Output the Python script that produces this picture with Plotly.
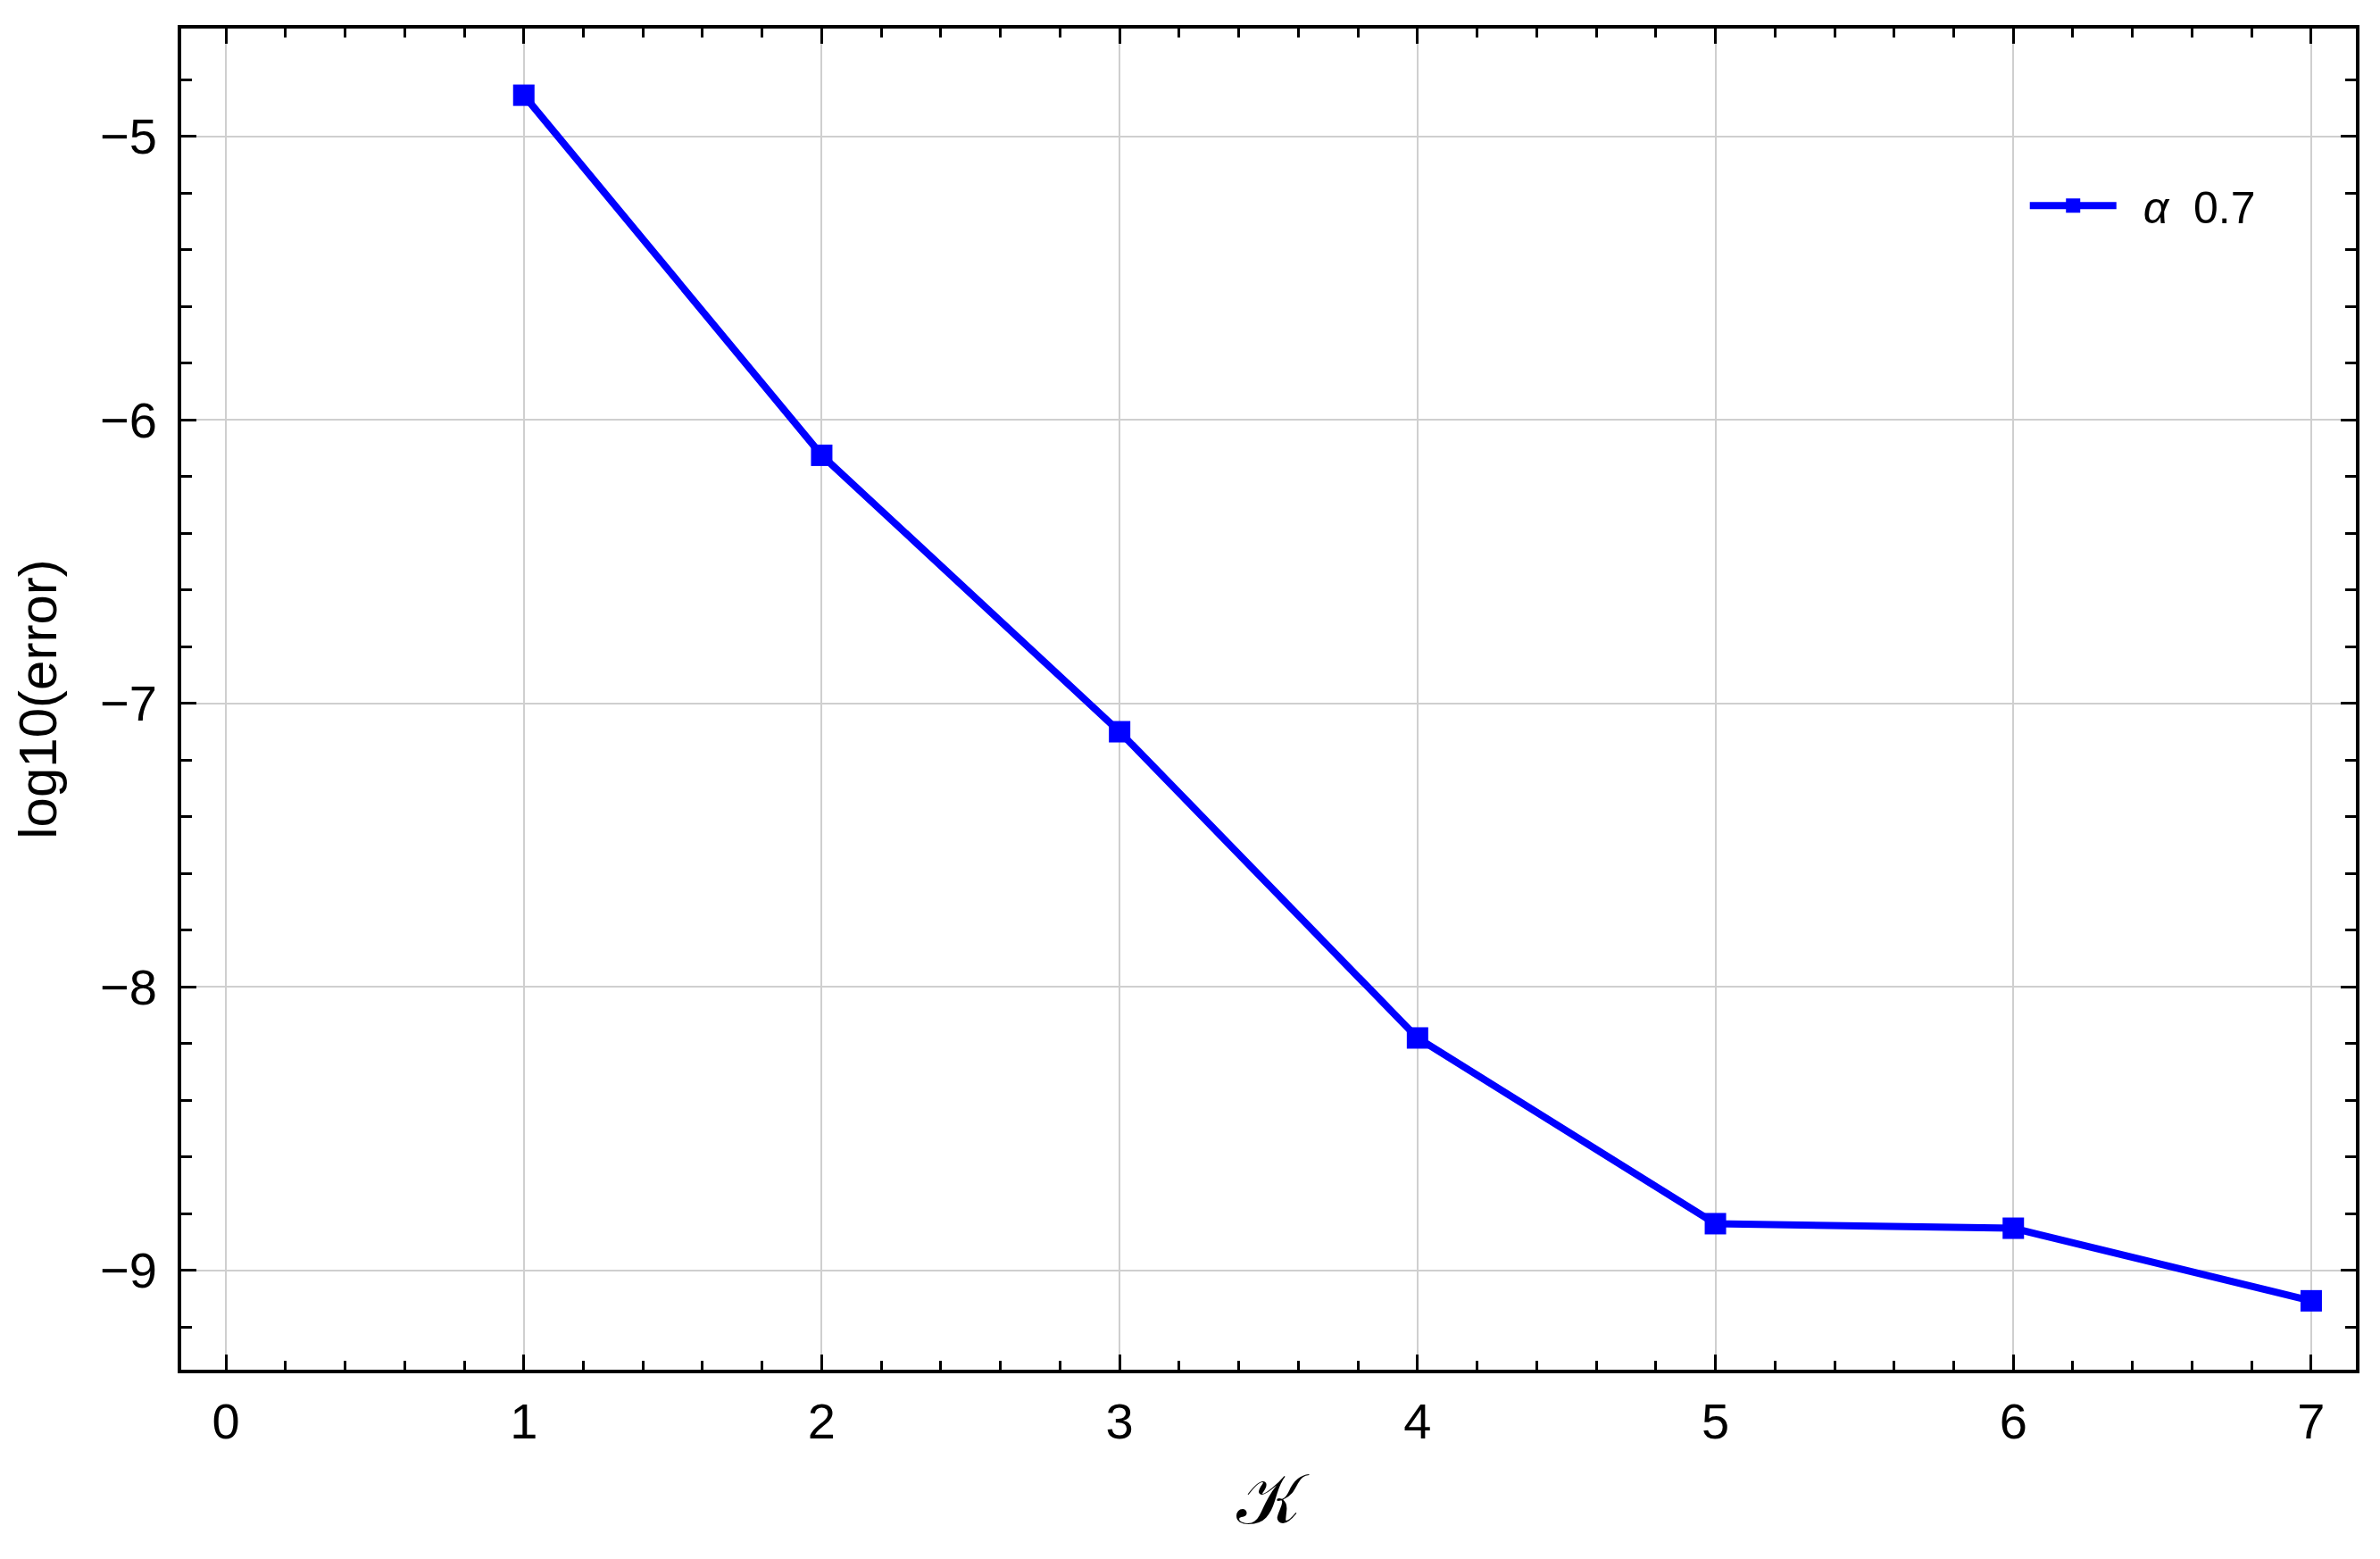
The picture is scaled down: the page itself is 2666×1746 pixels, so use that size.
import plotly.graph_objects as go

# iteration count K and log10 of the error
k_values = [1, 2, 3, 4, 5, 6, 7]
log_error = [-4.855, -6.125, -7.10, -8.18, -8.835, -8.851, -9.107]
series_name = "\u2002<i>α</i>  0.7"

x_ticks = [0, 1, 2, 3, 4, 5, 6, 7]
y_ticks = [-9, -8, -7, -6, -5]

fig = go.Figure()
fig.add_trace(go.Scatter(
    x=k_values, y=log_error, name=series_name, mode="lines+markers",
    line=dict(color="#0000ff", width=8),
    marker=dict(symbol="square", size=24, color="#0000ff"),
))

axis_style = dict(
    showline=True, linewidth=4, linecolor="black", mirror="allticks",
    ticks="inside", ticklen=17, tickwidth=3, tickcolor="black",
    showgrid=True, gridcolor="#cfcfcf", gridwidth=2, zeroline=False,
    tickfont=dict(size=56, color="black"),
)

fig.update_xaxes(
    **axis_style, range=[-0.15, 7.15], tickvals=x_ticks,
    minor=dict(dtick=0.2, ticks="inside", ticklen=10, tickwidth=3, tickcolor="black", showgrid=False),
    title=dict(text="𝒦", font=dict(size=78, color="black"), standoff=30),
    ticklabelstandoff=6,
)
fig.update_yaxes(
    **axis_style, range=[-9.35, -4.62], tickvals=y_ticks,
    minor=dict(dtick=0.2, ticks="inside", ticklen=12, tickwidth=3, tickcolor="black", showgrid=False),
    title=dict(text="log10(error)", font=dict(size=60, color="black"), standoff=30),
    ticklabelstandoff=12,
)

fig.update_layout(
    width=2666, height=1746,
    margin=dict(l=195, r=35, t=24, b=220),
    plot_bgcolor="white", paper_bgcolor="white",
    font=dict(family="Arial, Liberation Sans, sans-serif", color="black"),
    showlegend=True,
    legend=dict(x=0.848, y=0.868, xanchor="left", yanchor="middle",
                bgcolor="rgba(0,0,0,0)", font=dict(size=50, color="black"),
                itemwidth=97),
)

fig.write_html("out.html")
